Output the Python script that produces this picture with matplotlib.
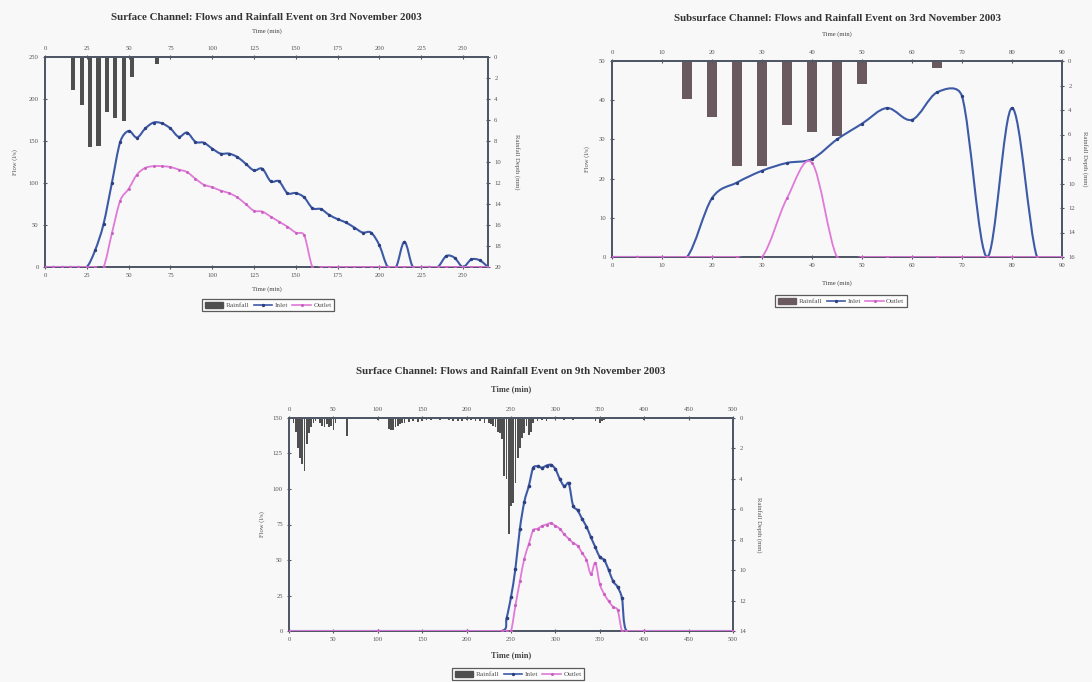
import numpy as np
import matplotlib
matplotlib.use("Agg")
import matplotlib.pyplot as plt
from matplotlib.path import Path
from matplotlib.patches import PathPatch, Patch
from matplotlib.lines import Line2D

plt.rcParams['font.family'] = ['Liberation Serif', 'DejaVu Serif']

# ---------------- Chart 1 : Surface channel, 3rd Nov 2003 ----------------
c1_time = list(range(0, 270, 5))
c1_inlet = [0, 0, 0, 0, 0, 0, 20, 51, 100, 149, 162, 154, 165, 172, 171, 165,
            155, 160, 149, 148, 141, 135, 135, 131, 123, 115, 117, 102, 102, 88,
            88, 83, 70, 69, 62, 57, 53, 47, 41, 41, 26, 0, 0, 30, 0, 0, 0, 0,
            13, 11, 0, 9, 8, 0]
c1_outlet = [0, 0, 0, 0, 0, 0, 0, 0, 40, 79, 93, 110, 118, 120, 120, 119,
             116, 113, 105, 98, 95, 91, 88, 83, 75, 67, 66, 60, 54, 48, 41, 38,
             0, 0, 0, 0, 0, 0, 0, 0, 0, 0, 0, 0, 0, 0, 0, 0, 0, 0, 0, 0, 0, 0]
c1_rain_time = [17, 22, 27, 32, 37, 42, 47, 52, 67]
c1_rain = [3.1, 4.6, 8.6, 8.5, 5.2, 5.8, 6.1, 1.9, 0.7]

# ---------------- Chart 2 : Subsurface channel, 3rd Nov 2003 -------------
c2_time = list(range(0, 95, 5))
c2_inlet = [0, 0, 0, 0, 15, 19, 22, 24, 25, 30, 34, 38, 35, 42, 41, 0, 38, 0, 0]
c2_outlet = [0, 0, 0, 0, 0, 0, 0, 15, 24, 0, 0, 0, 0, 0, 0, 0, 0, 0, 0]
c2_rain_time = [15, 20, 25, 30, 35, 40, 45, 50, 65]
c2_rain = [3.1, 4.6, 8.6, 8.6, 5.2, 5.8, 6.1, 1.9, 0.6]

# ---------------- Chart 3 : Surface channel, 9th Nov 2003 ----------------
c3_time = [0, 100, 200, 240, 245, 250, 255, 260, 265, 270, 275, 280, 285, 290,
           295, 300, 305, 310, 315, 320, 325, 330, 335, 340, 345, 350, 355,
           360, 365, 370, 375, 380, 400, 500]
c3_inlet = [0, 0, 0, 0, 9, 24, 44, 72, 91, 102, 115, 116, 115, 116.5, 117, 114,
            107, 102, 104, 88, 85, 79, 73.5, 66, 59, 52, 50, 43, 35, 31, 23, 0,
            0, 0]
c3_outlet = [0, 0, 0, 0, 0, 0, 18, 35, 51, 61, 71, 72, 74, 75, 76, 74, 72,
             68, 65, 62, 60, 55, 50, 40, 48, 33, 26, 21, 17, 15, 0, 0, 0, 0]
c3_rain_time = [5, 7.5, 10, 12.5, 15, 17.5, 20, 22.5, 25, 27.5, 30, 35, 37.5,
                40, 42.5, 45, 47.5, 50, 52.5, 65, 100, 112.5, 115, 117.5, 120,
                122.5, 125, 127.5, 130, 135, 140, 145, 150, 155, 160, 170, 180,
                185, 190, 195, 200, 205, 210, 215, 220, 225, 227.5, 230, 232.5,
                235, 237.5, 240, 242.5, 245, 247.5, 250, 252.5, 255, 257.5,
                260, 262.5, 265, 267.5, 270, 272.5, 275, 280, 285, 290, 300,
                310, 320, 345, 350, 352.5, 355, 400]
c3_rain = [0.3, 0.9, 2.0, 2.6, 3.0, 3.5, 1.7, 1.0, 0.6, 0.3, 0.2, 0.3, 0.5,
           0.6, 0.4, 0.6, 0.5, 0.8, 0.3, 1.2, 0.15, 0.7, 0.8, 0.8, 0.6, 0.5,
           0.4, 0.35, 0.3, 0.25, 0.2, 0.25, 0.2, 0.15, 0.15, 0.1, 0.15, 0.2,
           0.2, 0.2, 0.15, 0.15, 0.2, 0.2, 0.3, 0.3, 0.4, 0.5, 0.6, 0.9, 1.0,
           1.4, 3.8, 4.0, 7.6, 5.8, 5.6, 4.3, 2.6, 2.0, 1.3, 1.0, 0.5, 1.1,
           0.9, 0.3, 0.2, 0.15, 0.2, 0.1, 0.1, 0.15, 0.2, 0.3, 0.2, 0.15, 0.1]

TITLES = ["Surface Channel: Flows and Rainfall Event on 3rd November 2003",
          "Subsurface Channel: Flows and Rainfall Event on 3rd November 2003",
          "Surface Channel: Flows and Rainfall Event on 9th November 2003"]

BLUE = '#3d5aa6'
PINK = '#e07ad8'
AXC = '#505868'

W, H = 1092, 682
fig = plt.figure(figsize=(W / 100, H / 100), dpi=100, facecolor='#f8f8f8')


def box(l, t, r, b):
    return [l / W, 1 - b / H, (r - l) / W, (b - t) / H]


def excel_smooth(ax, x, y, **kw):
    pts = ax.transData.transform(np.column_stack([x, y]))
    n = len(pts)
    verts = [pts[0]]
    codes = [Path.MOVETO]
    for i in range(n - 1):
        p0 = pts[i - 1] if i > 0 else pts[i]
        p1, p2 = pts[i], pts[i + 1]
        p3 = pts[i + 2] if i + 2 < n else pts[i + 1]
        d12 = np.hypot(*(p2 - p1))
        d02 = np.hypot(*(p2 - p0))
        d13 = np.hypot(*(p3 - p1))
        f1 = min(1 / 6, 0.5 * d12 / d02) if d02 > 0 else 0
        f2 = min(1 / 6, 0.5 * d12 / d13) if d13 > 0 else 0
        verts += [p1 + (p2 - p0) * f1, p2 - (p3 - p1) * f2, p2]
        codes += [Path.CURVE4] * 3
    verts = ax.transData.inverted().transform(np.array(verts))
    ax.add_patch(PathPatch(Path(verts, codes), fill=False, **kw))


def make_chart(rect, title, t, inlet, outlet, rt, rain, xmax, xstep, ymax, ystep,
               rmax, barw, barc, lab_x, lab_r, lab_b, lab_t, ttl_y, big=False,
               ms=1.4):
    ax = fig.add_axes(rect)
    axr = ax.twinx()
    ax.set_zorder(axr.get_zorder() + 1)
    ax.patch.set_visible(False)
    axr.set_facecolor('white')
    ax.set_xlim(0, xmax)
    ax.set_ylim(0, ymax)
    axr.set_ylim(rmax, 0)
    ax.set_xticks(np.arange(0, xmax + 0.1, xstep))
    ax.set_yticks(np.arange(0, ymax + 0.1, ystep))
    axr.set_yticks(np.arange(0, rmax + 0.1, 2))
    axr.bar(rt, rain, width=barw, color=barc, align='center', zorder=2)
    excel_smooth(ax, t, inlet, edgecolor=BLUE, lw=1.5, zorder=3)
    ax.plot(t, inlet, ls='none', marker='o', ms=ms, mfc='#2c3f80',
            mec='#2c3f80', zorder=4)
    excel_smooth(ax, t, outlet, edgecolor=PINK, lw=1.3, zorder=5)
    ax.plot(t, outlet, ls='none', marker='o', ms=ms * 0.8, mfc='#c860c0',
            mec='#c860c0', zorder=6)
    top = ax.secondary_xaxis('top')
    top.set_xticks(np.arange(0, xmax + 0.1, xstep))
    for a in (ax, axr, top):
        for s in a.spines.values():
            s.set_color(AXC)
            s.set_linewidth(1.4)
        a.tick_params(labelsize=4.8, length=3, width=0.8, color=AXC,
                      labelcolor='#555555', direction='inout', pad=3)
    fs = 6 if big else 4.8
    fw = 'bold' if big else 'normal'
    ax.text(0.5, lab_b, "Time (min)", transform=ax.transAxes, ha='center',
            va='center', fontsize=fs, fontweight=fw, color='#444444')
    ax.text(0.5, lab_t, "Time (min)", transform=ax.transAxes, ha='center',
            va='center', fontsize=fs, fontweight=fw, color='#444444')
    ax.text(lab_x, 0.5, "Flow (l/s)", transform=ax.transAxes, ha='center',
            va='center', rotation=90, fontsize=4.8, color='#555555')
    ax.text(lab_r, 0.5, "Rainfall Depth (mm)", transform=ax.transAxes,
            ha='center', va='center', rotation=270, fontsize=4.8,
            color='#555555')
    ax.text(0.5, ttl_y, title, transform=ax.transAxes, ha='center', va='center',
            fontsize=7.8, fontweight='bold', color='#333333')
    return ax


def add_legend(cx, cy, barc):
    handles = [Patch(facecolor=barc, edgecolor=barc),
               Line2D([], [], color=BLUE, lw=1.2, marker='o', ms=1.4,
                      mfc='#2c3f80', mec='#2c3f80'),
               Line2D([], [], color=PINK, lw=1.2, marker='o', ms=1.2,
                      mfc='#c860c0', mec='#c860c0')]
    leg = fig.legend(handles, ["Rainfall", "Inlet", "Outlet"], ncol=3,
                     loc='center', bbox_to_anchor=(cx / W, 1 - cy / H),
                     fontsize=5.2, frameon=True, fancybox=False,
                     handlelength=2.6, handleheight=0.9, handletextpad=0.3,
                     columnspacing=0.6, borderpad=0.35, labelcolor='#555555')
    leg.get_frame().set_edgecolor('#333333')
    leg.get_frame().set_linewidth(0.9)


GRAY = '#4f4f4f'
make_chart(box(45, 57, 488, 267), TITLES[0], c1_time, c1_inlet, c1_outlet,
           c1_rain_time, c1_rain, 265, 25, 250, 50, 20, 2.4, GRAY,
           -0.068, 1.065, -0.105, 1.124, 1.19)
add_legend(268, 305, GRAY)

make_chart(box(612, 61, 1062, 257), TITLES[1], c2_time, c2_inlet, c2_outlet,
           c2_rain_time, c2_rain, 90, 10, 50, 10, 16, 2.05, '#6a5a60',
           -0.056, 1.051, -0.133, 1.138, 1.219)
add_legend(841, 301, '#6a5a60')

make_chart(box(289, 418, 733, 631), TITLES[2], c3_time, c3_inlet, c3_outlet,
           c3_rain_time, c3_rain, 500, 50, 150, 25, 14, 1.9, GRAY,
           -0.061, 1.059, -0.113, 1.136, 1.216, big=True, ms=1.6)
add_legend(518, 674, GRAY)

fig.savefig("out.png", dpi=100, facecolor=fig.get_facecolor())
